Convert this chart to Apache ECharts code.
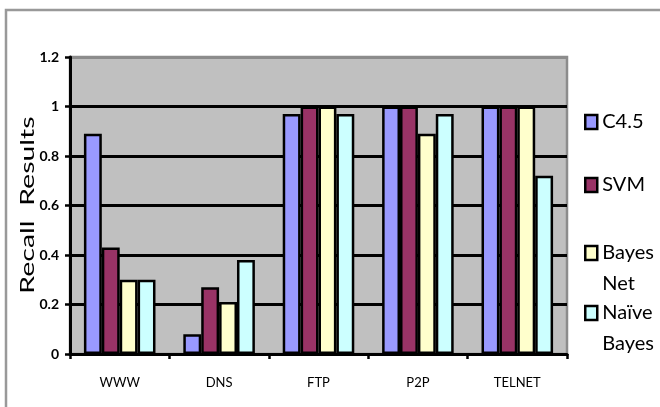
<!DOCTYPE html>
<html>
<head>
<meta charset="utf-8">
<script src="https://cdn.jsdelivr.net/npm/echarts@6/dist/echarts.min.js"></script>
<style>
  html, body { margin: 0; padding: 0; background: #fff; }
  #chart { width: 660px; height: 407px; }
</style>
</head>
<body>
<div id="chart"></div>
<script>
// Recall per traffic class for four classifiers
const categories = ['WWW', 'DNS', 'FTP', 'P2P', 'TELNET'];
const seriesNames = ['C4.5', 'SVM', 'Bayes Net', 'Naïve Bayes'];
const c45 = [0.89, 0.08, 0.97, 1.00, 1.00];
const svm = [0.43, 0.27, 1.00, 1.00, 1.00];
const bayesNet = [0.30, 0.21, 1.00, 0.89, 1.00];
const naiveBayes = [0.30, 0.38, 0.97, 0.97, 0.72];
const yTicks = [0, 0.2, 0.4, 0.6, 0.8, 1, 1.2];

const values = [c45, svm, bayesNet, naiveBayes];
const colors = ['#9999FF', '#993366', '#FFFFCC', '#CCFFFF'];
const FONT = 'Lato, "Noto Sans", sans-serif';

const chart = echarts.init(document.getElementById('chart'), null, { renderer: 'canvas' });

// legend entries are stacked on the right; two-word names wrap onto a second line,
// with a blank leading line so the swatch sits beside the first word
const legendTops = [111, 174, 206.5, 266.5];
const legends = seriesNames.map((name, i) => {
  const twoLine = name.indexOf(' ') >= 0;
  return {
    data: [name],
    orient: 'vertical',
    left: 584,
    top: legendTops[i],
    padding: 0,
    icon: 'rect',
    itemWidth: 12,
    itemHeight: 14,
    itemStyle: { borderColor: '#000', borderWidth: 2.5 },
    selectedMode: false,
    formatter: n => (n.indexOf(' ') >= 0 ? '\n' + n.replace(' ', '\n') : n),
    textStyle: {
      fontFamily: FONT,
      fontSize: 20,
      color: '#000',
      lineHeight: twoLine ? 31 : 22
    }
  };
});

const option = {
  animation: false,
  backgroundColor: '#fff',
  graphic: [
    {
      type: 'rect',
      shape: { x: 6, y: 10, width: 700, height: 450 },
      style: { fill: 'none', stroke: '#999', lineWidth: 2.5 },
      silent: true
    },
    {
      type: 'text',
      x: 28,
      y: 205,
      rotation: Math.PI / 2,
      scaleX: 1.5,
      style: {
        text: 'Recall  Results',
        font: '19px Lato, sans-serif',
        fill: '#000',
        align: 'center',
        verticalAlign: 'middle'
      }
    }
  ],
  legend: legends,
  grid: {
    left: 70,
    top: 57,
    right: 93,
    bottom: 53,
    show: true,
    backgroundColor: '#C0C0C0',
    borderColor: '#8c8c8c',
    borderWidth: 2.5
  },
  xAxis: {
    type: 'category',
    data: categories,
    axisLine: { lineStyle: { color: '#000', width: 3 } },
    axisTick: { show: true, inside: false, length: 5, lineStyle: { color: '#000', width: 2.5 } },
    axisLabel: { fontFamily: FONT, fontSize: 13, color: '#000', margin: 22 },
    splitLine: { show: false }
  },
  yAxis: {
    type: 'value',
    min: 0,
    max: 1.2,
    interval: 0.2,
    axisLine: { show: true, lineStyle: { color: '#000', width: 3 } },
    axisTick: { show: true, inside: false, length: 5, lineStyle: { color: '#000', width: 2.5 } },
    axisLabel: {
      fontFamily: FONT,
      fontSize: 14,
      fontWeight: 'bold',
      color: '#000',
      margin: 11,
      formatter: v => {
        const t = yTicks.find(k => Math.abs(k - v) < 1e-9);
        return t === undefined ? '' : String(t);
      }
    },
    splitLine: {
      show: true,
      lineStyle: {
        // the topmost line belongs to the plot frame, drawn in grey
        color: ['#000', '#000', '#000', '#000', '#000', '#000', '#8c8c8c'],
        width: 3
      }
    }
  },
  series: seriesNames.map((name, i) => ({
    name,
    type: 'bar',
    data: values[i],
    barGap: '0%',
    barCategoryGap: '28%',
    itemStyle: { color: colors[i], borderColor: '#000', borderWidth: 2.5 }
  }))
};

chart.setOption(option);
</script>
</body>
</html>
